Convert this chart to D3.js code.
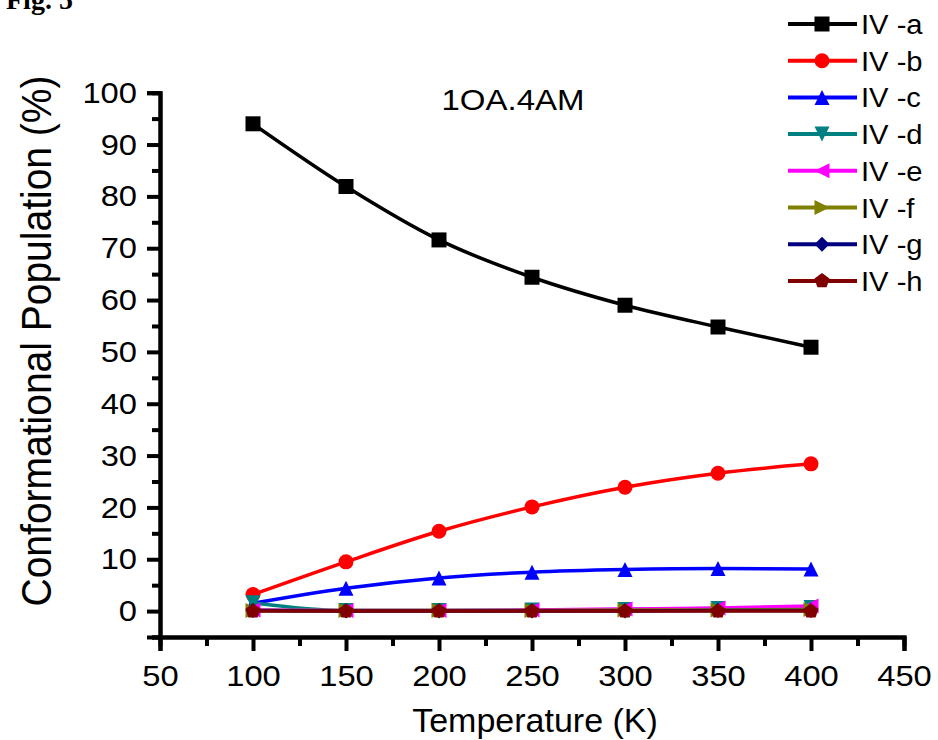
<!DOCTYPE html>
<html>
<head>
<meta charset="utf-8">
<script src="https://cdn.jsdelivr.net/npm/d3@7"></script>
<style>
  body { margin: 0; background: #fff; }
  svg { font-family: Arial, "Liberation Sans", sans-serif; }
</style>
</head>
<body>
<svg id="graph" width="938" height="740"></svg>
<script>
// temperaturas (K)
var temps = [100, 150, 200, 250, 300, 350, 400];
var names = ["IV -a", "IV -b", "IV -c", "IV -d", "IV -e", "IV -f", "IV -g", "IV -h"];
var ivA = [94.0, 81.9, 71.6, 64.4, 59.0, 54.8, 50.9];
var ivB = [3.2, 9.5, 15.4, 20.1, 23.9, 26.6, 28.4];
var ivC = [1.5, 4.4, 6.4, 7.5, 8.0, 8.2, 8.1];
var ivD = [1.6, 0.1, 0.1, 0.2, 0.3, 0.5, 0.7];
var ivE = [0.2, 0.1, 0.1, 0.2, 0.4, 0.6, 1.0];
var ivF = [0.1, 0.1, 0.1, 0.1, 0.2, 0.2, 0.3];
var ivG = [0.1, 0.0, 0.0, 0.0, 0.0, 0.1, 0.1];
var ivH = [0.0, 0.0, 0.0, 0.0, 0.0, 0.0, 0.0];
var xTicks = [50, 100, 150, 200, 250, 300, 350, 400, 450];
var yTicks = [0, 10, 20, 30, 40, 50, 60, 70, 80, 90, 100];

var colores = ["#000000", "#ff0000", "#0000ff", "#008080", "#ff00ff", "#808000", "#000080", "#800000"];
var simbolos = ["square", "circle", "triUp", "triDown", "triLeft", "triRight", "diamond", "pentagon"];
var series = [ivA, ivB, ivC, ivD, ivE, ivF, ivG, ivH];

var svg = d3.select("#graph");

var x = d3.scaleLinear().domain([50, 450]).range([160, 904]);
var y = d3.scaleLinear().domain([-5, 100]).range([637, 92.7]);

// la imagen original esta un poco estirada a lo ancho
function estirar(sel, f) {
    sel.each(function () {
        var l = this.getComputedTextLength();
        d3.select(this).attr("textLength", l * f).attr("lengthAdjust", "spacingAndGlyphs");
    });
}

// forma de cada marcador
function marcador(tipo, s) {
    var h = s / 2;
    switch (tipo) {
        case "square": return "M" + (-h) + "," + (-h) + "h" + s + "v" + s + "h" + (-s) + "Z";
        case "circle": return d3.symbol(d3.symbolCircle, Math.PI * h * h)();
        case "triUp": return "M0," + (-h) + "L" + h + "," + h + "L" + (-h) + "," + h + "Z";
        case "triDown": return "M0," + h + "L" + h + "," + (-h) + "L" + (-h) + "," + (-h) + "Z";
        case "triLeft": return "M" + (-h) + ",0L" + h + "," + (-h) + "L" + h + "," + h + "Z";
        case "triRight": return "M" + h + ",0L" + (-h) + "," + (-h) + "L" + (-h) + "," + h + "Z";
        case "diamond": return "M0," + (-h) + "L" + h + ",0L0," + h + "L" + (-h) + ",0Z";
        case "pentagon":
            var pts = d3.range(5).map(i => {
                var a = -Math.PI / 2 + i * 2 * Math.PI / 5;
                return [h * 1.05 * Math.cos(a), h * 1.05 * Math.sin(a)];
            });
            return "M" + pts.map(p => p.join(",")).join("L") + "Z";
    }
}

// ejes
var xAxis = d3.axisBottom(x).tickValues(xTicks).tickSize(14).tickPadding(14).tickFormat(d3.format("d"));
var xMinor = d3.axisBottom(x).tickValues(d3.range(75, 450, 50)).tickSize(9).tickFormat("");
var yAxis = d3.axisLeft(y).tickValues(yTicks).tickSize(13).tickPadding(10).tickFormat(d3.format("d"));
var yMinor = d3.axisLeft(y).tickValues(d3.range(-5, 100, 10)).tickSize(8).tickFormat("");

function estilo(g) {
    g.select(".domain").attr("stroke", "#000").attr("stroke-width", 4);
    g.selectAll(".tick line").attr("stroke", "#000").attr("stroke-width", 4);
    g.selectAll(".tick text").attr("font-size", 30).attr("fill", "#000")
        .attr("font-family", "Arial, 'Liberation Sans', sans-serif")
        .call(estirar, 1.09);
}

svg.append("g").attr("transform", "translate(0,637)").call(xMinor).call(estilo);
svg.append("g").attr("transform", "translate(0,637)").call(xAxis).call(estilo);
svg.append("g").attr("transform", "translate(160,0)").call(yMinor).call(estilo);
svg.append("g").attr("transform", "translate(160,0)").call(yAxis).call(estilo);

var linea = d3.line().x((d, i) => x(temps[i])).y(d => y(d)).curve(d3.curveMonotoneX);

// se dibujan en orden, IV-h queda encima de las demas cerca de cero
series.forEach((serie, k) => {
    var g = svg.append("g");
    g.append("path").datum(serie)
        .attr("d", linea)
        .attr("fill", "none")
        .attr("stroke", colores[k])
        .attr("stroke-width", 3.5);
    g.selectAll(".point").data(serie).enter()
        .append("path")
        .attr("class", "point")
        .attr("transform", (d, i) => "translate(" + x(temps[i]) + "," + y(d) + ")")
        .attr("d", marcador(simbolos[k], 15))
        .attr("fill", colores[k]);
});

// leyenda
var leg = svg.append("g");
names.forEach((n, i) => {
    var ly = 24 + i * 36.7;
    leg.append("line").attr("x1", 788).attr("x2", 857).attr("y1", ly).attr("y2", ly)
        .attr("stroke", colores[i]).attr("stroke-width", 4);
    leg.append("path").attr("transform", "translate(822," + ly + ")")
        .attr("d", marcador(simbolos[i], 15)).attr("fill", colores[i]);
    leg.append("text").attr("x", 861).attr("y", ly + 10).attr("font-size", 27).text(n)
        .call(estirar, 1.08);
});

// textos
svg.append("text").attr("x", 513).attr("y", 110).attr("text-anchor", "middle")
    .attr("font-size", 30).text("1OA.4AM").call(estirar, 1.1);
svg.append("text").attr("x", 535).attr("y", 732).attr("text-anchor", "middle")
    .attr("font-size", 34).text("Temperature (K)");
svg.append("text").attr("transform", "translate(51,341) scale(1.1,1) rotate(-90)").attr("text-anchor", "middle")
    .attr("font-size", 39).text("Conformational Population (%)");
svg.append("text").attr("x", 6).attr("y", 9).attr("font-family", "'Liberation Serif', 'Times New Roman', serif")
    .attr("font-weight", "bold").attr("font-size", 28).text("Fig. 5");
</script>
</body>
</html>
